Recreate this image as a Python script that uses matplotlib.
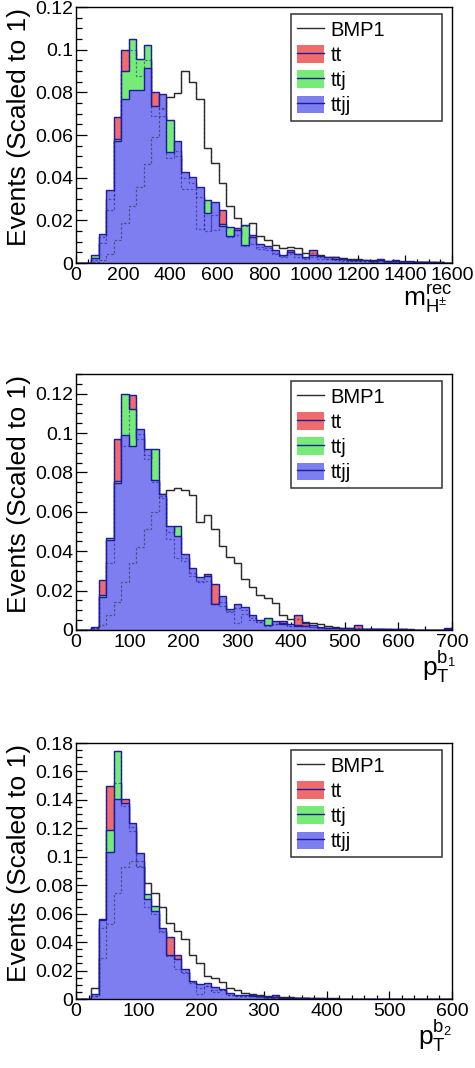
import matplotlib
matplotlib.use("Agg")
import matplotlib.pyplot as plt
import numpy as np
from matplotlib.ticker import MultipleLocator, FuncFormatter
from matplotlib.lines import Line2D
from matplotlib.patches import Patch

plt.rcParams['font.family'] = ['Liberation Sans', 'DejaVu Sans']
plt.rcParams['mathtext.fontset'] = 'custom'
plt.rcParams['mathtext.rm'] = 'Liberation Sans'
plt.rcParams['mathtext.it'] = 'Liberation Sans'
plt.rcParams['mathtext.bf'] = 'Liberation Sans:bold'

# ---------------- data ----------------
series_labels = ["BMP1", "tt", "ttj", "ttjj"]
ylabel_text = "Events (Scaled to 1)"

# Panel 1: m_H+- rec, 50 bins 0..1600
m_xmax = 1600
m_bmp1 = [0, 0, 0.0003, 0.0016, 0.0044, 0.011, 0.0187, 0.0268, 0.0358, 0.0464,
          0.059, 0.0728, 0.0778, 0.0797, 0.0902, 0.0848, 0.0767, 0.054, 0.047, 0.0373,
          0.0268, 0.021, 0.0175, 0.0187, 0.0128, 0.0106, 0.0086, 0.007, 0.0075, 0.007,
          0.0047, 0.0047, 0.0036, 0.003, 0.0028, 0.0025, 0.002, 0.0018, 0.0015, 0.0012,
          0.001, 0.0009, 0.0008, 0.0007, 0.0006, 0.0005, 0.0004, 0.0004, 0.0003, 0.0002]
m_tt = [0, 0, 0.0015, 0.0093, 0.025, 0.0685, 0.1, 0.1, 0.0875, 0.0952,
        0.080, 0.0724, 0.049, 0.0526, 0.040, 0.0377, 0.031, 0.015, 0.0226, 0.0249,
        0.012, 0.0162, 0.008, 0.0132, 0.0065, 0.006, 0.004, 0.003, 0.0059, 0.003,
        0.002, 0.0059, 0.002, 0.002, 0.0028, 0.001, 0.001, 0.0008, 0.0008, 0.0006,
        0.0018, 0.0005, 0.0016, 0.0005, 0.0005, 0.0003, 0.0003, 0.0002, 0.0002, 0]
m_ttj = [0, 0, 0.0036, 0.012, 0.030, 0.058, 0.09, 0.105, 0.0957, 0.1024,
         0.0688, 0.069, 0.0669, 0.050, 0.0345, 0.0345, 0.016, 0.0296, 0.0156, 0.0184,
         0.0171, 0.013, 0.018, 0.009, 0.0075, 0.007, 0.0045, 0.0035, 0.004, 0.004,
         0.0025, 0.003, 0.003, 0.002, 0.0015, 0.0015, 0.001, 0.001, 0.0009, 0.0008,
         0.0008, 0.0007, 0.0006, 0.0006, 0.0005, 0.0004, 0.0003, 0.0003, 0.0002, 0]
m_ttjj = [0, 0, 0.0022, 0.0135, 0.034, 0.057, 0.077, 0.081, 0.0812, 0.0913,
          0.0736, 0.0794, 0.052, 0.057, 0.0428, 0.0405, 0.0358, 0.0233, 0.0285, 0.0174,
          0.0128, 0.0156, 0.0086, 0.0121, 0.009, 0.0078, 0.0062, 0.0039, 0.005, 0.0044,
          0.003, 0.0039, 0.0034, 0.0028, 0.002, 0.002, 0.0015, 0.0015, 0.0012, 0.001,
          0.0012, 0.001, 0.0008, 0.001, 0.0008, 0.0006, 0.0005, 0.0005, 0.0004, 0]

# Panel 2: pT b1, 50 bins 0..700
b1_xmax = 700
b1_bmp1 = [0, 0, 0.0005, 0.0025, 0.0076, 0.0144, 0.0242, 0.0338, 0.0423, 0.0515,
           0.0597, 0.0693, 0.071, 0.0723, 0.0711, 0.0686, 0.0546, 0.0583, 0.0512, 0.0428,
           0.0372, 0.0338, 0.0259, 0.022, 0.018, 0.016, 0.0135, 0.0078, 0.0056, 0.0056,
           0.004, 0.0035, 0.003, 0.002, 0.0015, 0.0012, 0.001, 0.0008, 0.0007, 0.0006,
           0.0005, 0.0005, 0.0004, 0.0003, 0.0003, 0.0002, 0.0002, 0.0001, 0.0001, 0.0001]
b1_tt = [0, 0, 0.001, 0.0254, 0.034, 0.0968, 0.0935, 0.1191, 0.0994, 0.089,
         0.075, 0.067, 0.046, 0.0368, 0.0368, 0.0276, 0.025, 0.0284, 0.0233, 0.012,
         0.009, 0.0034, 0.008, 0.005, 0.004, 0.002, 0.003, 0.0045, 0.002, 0.0076,
         0.0035, 0.0015, 0.001, 0.001, 0.0008, 0.0006, 0.0005, 0.0027, 0.0004, 0.0003,
         0.0003, 0.0002, 0.0002, 0.0002, 0.0001, 0.0001, 0.0001, 0.0001, 0.0001, 0]
b1_ttj = [0, 0, 0.001, 0.018, 0.0465, 0.0757, 0.12, 0.1124, 0.097, 0.087,
          0.0921, 0.068, 0.05, 0.0526, 0.035, 0.029, 0.0245, 0.025, 0.013, 0.014,
          0.0095, 0.011, 0.01, 0.006, 0.004, 0.0059, 0.003, 0.0035, 0.002, 0.0026,
          0.002, 0.0015, 0.001, 0.001, 0.0008, 0.0006, 0.0005, 0.0004, 0.0006, 0.0006,
          0.0003, 0.0003, 0.0002, 0.0006, 0.0002, 0.0001, 0.0001, 0.0001, 0.0001, 0.0008]
b1_ttjj = [0, 0, 0.0014, 0.0166, 0.0456, 0.0745, 0.0989, 0.0935, 0.1022, 0.0918,
           0.076, 0.0693, 0.0529, 0.0478, 0.0385, 0.0314, 0.0267, 0.0272, 0.0132, 0.0171,
           0.0106, 0.0132, 0.0115, 0.0076, 0.0051, 0.0025, 0.0047, 0.0032, 0.0028, 0.0022,
           0.0022, 0.0025, 0.0015, 0.0012, 0.0012, 0.001, 0.0008, 0.0006, 0.0005, 0.0004,
           0.0004, 0.0003, 0.0003, 0.0003, 0.0002, 0.0002, 0.0002, 0.0001, 0.0001, 0.0004]

# Panel 3: pT b2, 50 bins 0..600
b2_xmax = 600
b2_bmp1 = [0, 0, 0.0075, 0.029, 0.0528, 0.0748, 0.0931, 0.0967, 0.0936, 0.0814,
           0.0744, 0.065, 0.0537, 0.048, 0.042, 0.031, 0.025, 0.0162, 0.015, 0.012,
           0.0075, 0.006, 0.0045, 0.0035, 0.003, 0.0022, 0.0018, 0.0015, 0.0012, 0.001,
           0.0008, 0.0007, 0.0006, 0.0005, 0.0004, 0.0003, 0.0002, 0.0002, 0.0001, 0.0001,
           0, 0, 0, 0, 0, 0, 0, 0, 0, 0]
b2_tt = [0, 0, 0.002, 0.0565, 0.150, 0.152, 0.1408, 0.1206, 0.0967, 0.065,
         0.06, 0.047, 0.0439, 0.031, 0.018, 0.011, 0.0035, 0.009, 0.0046, 0.006,
         0.003, 0.002, 0.002, 0.003, 0.0015, 0.001, 0.0028, 0.0008, 0.0006, 0.0005,
         0.0004, 0.0003, 0.0003, 0.0002, 0.0002, 0.0001, 0, 0, 0, 0,
         0, 0, 0, 0, 0, 0, 0, 0, 0, 0]
b2_ttj = [0, 0, 0.002, 0.0497, 0.119, 0.1745, 0.1358, 0.118, 0.093, 0.0737,
          0.0657, 0.048, 0.03, 0.0209, 0.019, 0.012, 0.008, 0.009, 0.006, 0.006,
          0.003, 0.002, 0.002, 0.0018, 0.0015, 0.0016, 0.001, 0.0008, 0.0006, 0.0005,
          0.0004, 0.0003, 0.0003, 0.0002, 0.0001, 0, 0, 0, 0, 0,
          0, 0, 0, 0, 0, 0, 0, 0, 0, 0]
b2_ttjj = [0, 0, 0.0033, 0.0555, 0.1037, 0.1405, 0.138, 0.124, 0.1025, 0.0701,
           0.0622, 0.0497, 0.031, 0.028, 0.0209, 0.0129, 0.0103, 0.011, 0.0082, 0.0068,
           0.004, 0.0028, 0.0026, 0.0022, 0.002, 0.0012, 0.0015, 0.001, 0.0008, 0.0006,
           0.0005, 0.0004, 0.0004, 0.0003, 0.0002, 0, 0, 0, 0, 0,
           0, 0, 0, 0, 0, 0, 0, 0, 0, 0]

# ---------------- style ----------------
c_tt, c_ttj, c_ttjj = '#f06c6c', '#76ec76', '#7e7ef0'
edge_col = '#1c1c9c'
bmp_col = '#2a2a2a'

W, H = 475, 1068
fig = plt.figure(figsize=(W / 100, H / 100), dpi=100)

ax_left = 76 / W
ax_w = (452 - 76) / W
panel_tops = [7, 374, 743]
panel_h = 256


def draw_panel(top_px, xmax, bmp1, tt, ttj, ttjj, ymax, xmajor, xminor, xlabel, xlab_y, xlab_x):
    ax = fig.add_axes([ax_left, 1 - (top_px + panel_h) / H, ax_w, panel_h / H])
    edges = np.linspace(0, xmax, len(bmp1) + 1)
    # signal outline underneath
    ax.stairs(bmp1, edges, color=bmp_col, lw=1.0, zorder=1)
    # overlaid backgrounds (drawn in order: tt, ttj, ttjj)
    for vals, col, z in [(tt, c_tt, 2), (ttj, c_ttj, 3), (ttjj, c_ttjj, 4)]:
        ax.stairs(vals, edges, fill=True, color=col, lw=0, zorder=z)
        ax.stairs(vals, edges, color=edge_col, lw=1.0, zorder=z + 0.1)
    # show-through of covered outlines (pattern fill effect)
    ax.stairs(bmp1, edges, color=bmp_col, lw=0.9, ls=(0, (2, 1.5)), alpha=0.55, zorder=5)
    ax.stairs(tt, edges, color=edge_col, lw=0.9, ls=(0, (2, 1.5)), alpha=0.55, zorder=5)
    ax.stairs(ttj, edges, color=edge_col, lw=0.9, ls=(0, (2, 1.5)), alpha=0.55, zorder=5)
    ax.set_xlim(0, xmax)
    ax.set_ylim(0, ymax)
    ax.xaxis.set_major_locator(MultipleLocator(xmajor))
    ax.xaxis.set_minor_locator(MultipleLocator(xminor))
    ax.yaxis.set_major_locator(MultipleLocator(0.02))
    ax.yaxis.set_minor_locator(MultipleLocator(0.005))
    ax.yaxis.set_major_formatter(FuncFormatter(lambda v, p: '%g' % round(v, 4)))
    ax.xaxis.set_major_formatter(FuncFormatter(lambda v, p: '%g' % v))
    ax.tick_params(axis='x', which='major', direction='in', length=5.5, width=0.9,
                   labelsize=14, pad=3, top=False)
    ax.tick_params(axis='x', which='minor', direction='in', length=2.8, width=0.9, top=False)
    ax.tick_params(axis='y', which='major', direction='in', length=8.1, width=0.9,
                   labelsize=14, pad=2, right=False)
    ax.tick_params(axis='y', which='minor', direction='in', length=4.0, width=0.9, right=False)
    for sp in ax.spines.values():
        sp.set_linewidth(1.0)
        sp.set_color('black')
        sp.set_zorder(6)
    ax.text(-0.152, 0.996, ylabel_text, rotation=90, ha='center', va='top',
            fontsize=19, transform=ax.transAxes)
    ax.text(xlab_x, xlab_y, xlabel, ha='right', va='top', fontsize=19,
            transform=ax.transAxes)

    handles = [Line2D([], [], color=bmp_col, lw=1.0)]
    for col in [c_tt, c_ttj, c_ttjj]:
        handles.append((Patch(facecolor=col, edgecolor='none'),
                        Line2D([], [], color=edge_col, lw=1.0)))
    leg = ax.legend(handles, series_labels, loc='upper left',
                    bbox_to_anchor=(0.572, 0.570, 0.401, 0.403), mode='expand',
                    fontsize=14.5, frameon=True, fancybox=False, framealpha=1,
                    edgecolor='#333333', borderaxespad=0, borderpad=0.3,
                    labelspacing=0.28, handlelength=1.35, handleheight=0.95,
                    handletextpad=0.3)
    leg.get_frame().set_linewidth(1.1)
    leg.set_zorder(10)
    return ax


draw_panel(panel_tops[0], m_xmax, m_bmp1, m_tt, m_ttj, m_ttjj, 0.12, 200, 50,
           r'$\mathregular{m^{rec}_{H^{\pm}}}$', -0.075, 1.0)
draw_panel(panel_tops[1], b1_xmax, b1_bmp1, b1_tt, b1_ttj, b1_ttjj, 0.13, 100, 50,
           r'$\mathregular{p_{T}^{b_{1}}}$', -0.075, 1.01)
draw_panel(panel_tops[2], b2_xmax, b2_bmp1, b2_tt, b2_ttj, b2_ttjj, 0.18, 100, 20,
           r'$\mathregular{p_{T}^{b_{2}}}$', -0.075, 1.0)

fig.savefig('out.png', dpi=100)
